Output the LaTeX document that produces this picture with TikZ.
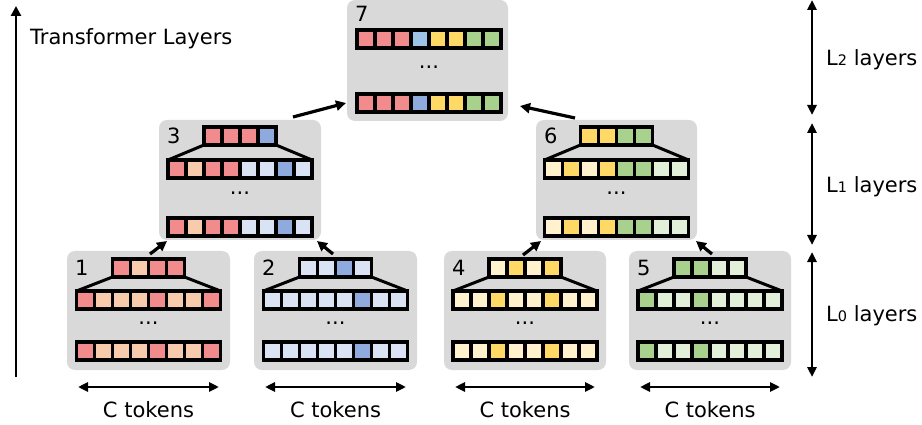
\documentclass[tikz,border=0pt]{standalone}
\usepackage{fontspec}
\setmainfont{DejaVu Sans}
\usetikzlibrary{arrows.meta}
\definecolor{cr}{HTML}{F28C8C}
\definecolor{cp}{HTML}{F8CBAD}
\definecolor{lb}{HTML}{DAE3F3}
\definecolor{mb}{HTML}{8FAADC}
\definecolor{sb}{HTML}{9DC3E6}
\definecolor{yy}{HTML}{FFD966}
\definecolor{ly}{HTML}{FFF2CC}
\definecolor{gg}{HTML}{A9D18E}
\definecolor{lg}{HTML}{E2F0D9}
\definecolor{bg}{HTML}{D9D9D9}
\newcommand{\wrow}[3]{\foreach \cc [count=\ii from 0] in {#3} {\draw[cell,fill=\cc] ({#1-72+\ii*18},#2) rectangle ++(18,18);}}
\newcommand{\srow}[3]{\foreach \cc [count=\ii from 0] in {#3} {\draw[cell,fill=\cc] ({#1-36+\ii*18},#2) rectangle ++(18,18);}}
\newcommand{\trap}[3]{\draw[trapline] ({#1-36},{#2+18}) -- ({#1-72},#3); \draw[trapline] ({#1+36},{#2+18}) -- ({#1+72},#3);}
\begin{document}
\begin{tikzpicture}[x=1pt,y=-1pt,
  panel/.style={fill=bg, rounded corners=8pt, draw=none, inner sep=0pt, outer sep=0pt, anchor=north west},
  cell/.style={draw=black, line width=3.2pt},
  trapline/.style={draw=black, line width=3pt},
  arr/.style={-{Triangle[length=10pt,width=10pt]}, line width=3.2pt},
  darr/.style={{Triangle[length=10pt,width=9pt]}-{Triangle[length=10pt,width=9pt]}, line width=2.8pt},
  lbl/.style={font=\fontsize{21}{25}\selectfont, inner sep=0pt},
  num/.style={lbl, anchor=base west}]
\useasboundingbox (0,0) rectangle (922,425);

% panels
\node[panel, minimum width=163pt, minimum height=119pt] (b1) at (67,251) {};
\node[panel, minimum width=163pt, minimum height=119pt] (b2) at (254,251) {};
\node[panel, minimum width=162pt, minimum height=119pt] (b4) at (444,251) {};
\node[panel, minimum width=162pt, minimum height=119pt] (b5) at (629,251) {};
\node[panel, minimum width=162pt, minimum height=120pt] (b3) at (159,120) {};
\node[panel, minimum width=161pt, minimum height=120pt] (b6) at (536,120) {};
\node[panel, minimum width=161pt, minimum height=121pt] (b7) at (347,0) {};

% numbers
\node[num] (n1) at (75,276) {1};
\node[num] (n2) at (262,276) {2};
\node[num] (n4) at (452,276) {4};
\node[num] (n5) at (637,276) {5};
\node[num] (n3) at (167,144) {3};
\node[num] (n6) at (544,144) {6};
\node[num] (n7) at (355,22) {7};

% box 1
\srow{148.5}{259}{cr,cp,cr,cr}
\trap{148.5}{259}{291}
\wrow{148.5}{291}{cr,cp,cp,cp,cr,cp,cp,cr}
\node[lbl, anchor=base] (d1) at (148.5,324) {...};
\wrow{148.5}{342}{cr,cp,cp,cp,cr,cp,cp,cr}
% box 2
\srow{335.5}{259}{lb,lb,mb,lb}
\trap{335.5}{259}{291}
\wrow{335.5}{291}{lb,lb,lb,lb,lb,mb,lb,lb}
\node[lbl, anchor=base] (d2) at (335.5,324) {...};
\wrow{335.5}{342}{lb,lb,lb,lb,lb,mb,lb,lb}
% box 4
\srow{525}{259}{ly,yy,ly,yy}
\trap{525}{259}{291}
\wrow{525}{291}{ly,ly,yy,ly,ly,yy,ly,ly}
\node[lbl, anchor=base] (d4) at (525,324) {...};
\wrow{525}{342}{ly,ly,yy,ly,ly,yy,ly,ly}
% box 5
\srow{710}{259}{gg,gg,lg,lg}
\trap{710}{259}{291}
\wrow{710}{291}{gg,lg,lg,gg,lg,lg,lg,lg}
\node[lbl, anchor=base] (d5) at (710,324) {...};
\wrow{710}{342}{gg,lg,lg,gg,lg,lg,lg,lg}
% box 3
\srow{240}{127}{cr,cr,cr,mb}
\trap{240}{127}{160}
\wrow{240}{160}{cr,cp,cr,cr,lb,lb,mb,lb}
\node[lbl, anchor=base] (d3) at (240,195) {...};
\wrow{240}{218}{cr,cp,cr,cr,lb,lb,mb,lb}
% box 6
\srow{616.5}{127}{yy,yy,gg,gg}
\trap{616.5}{127}{160}
\wrow{616.5}{160}{ly,yy,ly,yy,gg,gg,lg,lg}
\node[lbl, anchor=base] (d6) at (616.5,195) {...};
\wrow{616.5}{218}{ly,yy,ly,yy,gg,gg,lg,lg}
% box 7
\wrow{429}{30}{cr,cr,cr,sb,yy,yy,gg,gg}
\node[lbl, anchor=base] (d7) at (429,69) {...};
\wrow{429}{94}{cr,cr,cr,mb,yy,yy,gg,gg}

% connectors between panels
\coordinate (a1s) at (150,254); \coordinate (a1e) at (167,241);
\coordinate (a2s) at (333,254); \coordinate (a2e) at (317,241);
\coordinate (a4s) at (523,255); \coordinate (a4e) at (541,241);
\coordinate (a5s) at (712,254); \coordinate (a5e) at (696,241);
\coordinate (a3s) at (293,117); \coordinate (a3e) at (346,103);
\coordinate (a6s) at (575,118); \coordinate (a6e) at (520,106);
\draw[arr] (a1s) -- (a1e);
\draw[arr] (a2s) -- (a2e);
\draw[arr] (a4s) -- (a4e);
\draw[arr] (a5s) -- (a5e);
\draw[arr] (a3s) -- (a3e);
\draw[arr] (a6s) -- (a6e);

% left axis
\coordinate (ax0) at (16,377); \coordinate (ax1) at (16,6);
\draw[arr, line width=2.8pt] (ax0) -- (ax1);
\node[lbl, anchor=base west] (tl) at (30,45) {Transformer Layers};

% right layer spans
\coordinate (r0) at (812,0); \coordinate (r1) at (812,115);
\coordinate (r2) at (812,123); \coordinate (r3) at (812,245);
\coordinate (r4) at (812,252); \coordinate (r5) at (812,377);
\draw[darr] (r0) -- (r1);
\draw[darr] (r2) -- (r3);
\draw[darr] (r4) -- (r5);
\node[lbl, anchor=base west] (l2) at (826,66) {L{\fontsize{14.5}{14}\selectfont 2} layers};
\node[lbl, anchor=base west] (l1) at (826,193) {L{\fontsize{14.5}{14}\selectfont 1} layers};
\node[lbl, anchor=base west] (l0) at (826,321) {L{\fontsize{14.5}{14}\selectfont 0} layers};

% bottom token spans
\coordinate (c1a) at (78,387); \coordinate (c1b) at (219,387);
\coordinate (c2a) at (265,387); \coordinate (c2b) at (406,387);
\coordinate (c4a) at (455,387); \coordinate (c4b) at (595,387);
\coordinate (c5a) at (640,387); \coordinate (c5b) at (780,387);
\draw[darr] (c1a) -- (c1b);
\draw[darr] (c2a) -- (c2b);
\draw[darr] (c4a) -- (c4b);
\draw[darr] (c5a) -- (c5b);
\node[lbl, anchor=base] (t1) at (148.5,417) {C tokens};
\node[lbl, anchor=base] (t2) at (335.5,417) {C tokens};
\node[lbl, anchor=base] (t4) at (525,417) {C tokens};
\node[lbl, anchor=base] (t5) at (710,417) {C tokens};
\end{tikzpicture}
\end{document}
